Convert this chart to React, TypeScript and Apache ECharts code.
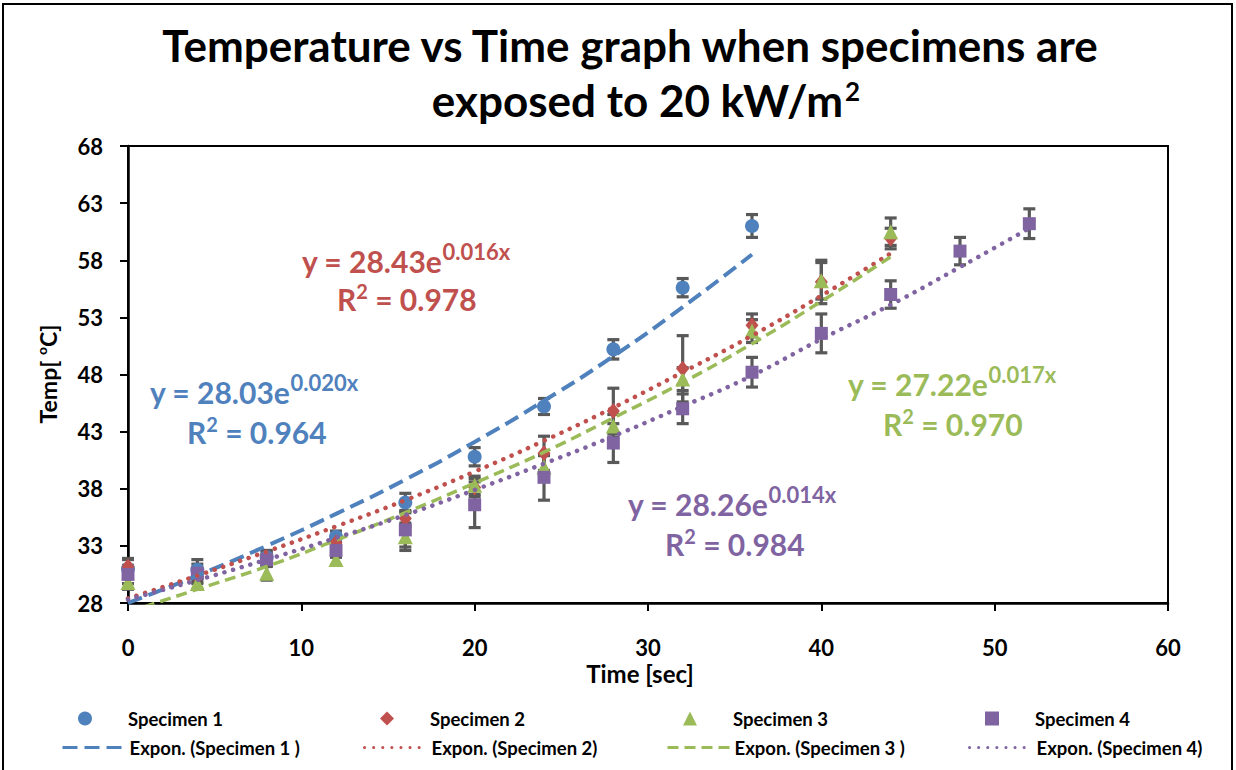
import React, { useEffect, useRef } from "react";
import * as echarts from "echarts";

// ---- Data ----
const xTicks = [0, 10, 20, 30, 40, 50, 60];
const yTicks = [28, 33, 38, 43, 48, 53, 58, 63, 68];

const timeS1 = [0, 4, 8, 12, 16, 20, 24, 28, 32, 36];
const tempS1 = [31.0, 30.9, 32.0, 33.8, 36.8, 40.8, 45.2, 50.2, 55.6, 61.0];
const errS1 = [0.8, 0.9, 0.6, 0.5, 0.8, 0.8, 0.7, 0.85, 0.8, 1.0];
const trendS1 = [28.0, 30.4, 33.0, 35.8, 38.8, 42.1, 45.7, 49.6, 53.9, 58.5];

const timeS2 = [0, 4, 8, 12, 16, 20, 24, 28, 32, 36, 40, 44];
const tempS2 = [31.2, 30.3, 31.9, 33.3, 35.4, 38.1, 41.1, 44.8, 48.5, 52.3, 56.1, 59.9];
const errS2 = [0.7, 0.6, 0.6, 0.5, 0.7, 0.8, 1.5, 2.0, 2.9, 1.0, 1.9, 0.9];
const trendS2 = [28.4, 30.4, 32.5, 34.7, 37.0, 39.5, 42.2, 45.1, 48.2, 51.4, 54.9, 58.6];

const timeS3 = [0, 4, 8, 12, 16, 20, 24, 28, 32, 36, 40, 44];
const tempS3 = [29.8, 29.7, 30.6, 31.8, 33.8, 38.3, 39.9, 43.5, 47.6, 51.8, 56.2, 60.5];
const errS3 = [0.6, 0.5, 0.6, 0.5, 1.2, 0.8, 1.0, 1.0, 1.0, 1.0, 1.6, 1.2];
const trendS3 = [27.2, 29.2, 31.2, 33.5, 35.9, 38.5, 41.2, 44.2, 47.3, 50.7, 54.4, 58.3];

const timeS4 = [0, 4, 8, 12, 16, 20, 24, 28, 32, 36, 40, 44, 48, 52];
const tempS4 = [30.5, 30.6, 31.8, 32.6, 34.4, 36.6, 39.0, 42.0, 45.0, 48.2, 51.6, 55.0, 58.8, 61.2];
const errS4 = [0.8, 0.8, 0.6, 0.6, 1.5, 2.0, 2.0, 1.7, 1.3, 1.3, 1.7, 1.2, 1.2, 1.3];
const trendS4 = [28.3, 30.0, 31.8, 33.7, 35.7, 37.9, 40.2, 42.6, 45.2, 47.9, 51.1, 54.1, 57.4, 60.8];

const seriesNames = ["Specimen 1", "Specimen 2", "Specimen 3", "Specimen 4"];
const trendNames = [
  "Expon. (Specimen 1 )",
  "Expon. (Specimen 2)",
  "Expon. (Specimen 3 )",
  "Expon. (Specimen 4)",
];
const equations = ["28.03e", "28.43e", "27.22e", "28.26e"];
const exponents = ["0.020x", "0.016x", "0.017x", "0.014x"];
const rSquared = ["0.964", "0.978", "0.970", "0.984"];
const titleLine1 = "Temperature vs Time graph when specimens are";
const titleLine2 = "exposed to 20 kW/m";

const COLORS = ["#4F81BD", "#C0504D", "#9BBB59", "#8064A2"];
const ERR_COLOR = "#595959";
const FONT = "Lato";

const pairs = (xs: number[], ys: number[]) => xs.map((x, i) => [x, ys[i]]);
const triples = (xs: number[], ys: number[], es: number[]) => xs.map((x, i) => [x, ys[i], es[i]]);

export default function App() {
  const ref = useRef<HTMLDivElement>(null);

  useEffect(() => {
    document.body.style.margin = "0";
    if (!ref.current) return;
    const chart = echarts.init(ref.current, null, { renderer: "svg" });

    const times = [timeS1, timeS2, timeS3, timeS4];
    const temps = [tempS1, tempS2, tempS3, tempS4];
    const errs = [errS1, errS2, errS3, errS4];
    const trends = [trendS1, trendS2, trendS3, trendS4];
    const symbols = ["circle", "diamond", "triangle", "rect"];
    const symbolSizes: any[] = [14, [13, 16], 15, 13];
    const trendTypes: any[] = [[15, 7], [0.1, 9], [11, 6], [0.1, 9]];
    const trendWidths = [4, 4.5, 3.5, 4.5];

    const errSeries = times.map((t, k) => ({
      type: "custom",
      name: "err" + k,
      data: triples(t, temps[k], errs[k]),
      encode: { x: 0, y: 1 },
      z: 1,
      silent: true,
      renderItem: (_p: any, api: any) => {
        const x = api.value(0);
        const y = api.value(1);
        const e = api.value(2);
        const top = api.coord([x, y + e]);
        const bot = api.coord([x, y - e]);
        const hw = 6;
        const st = { stroke: ERR_COLOR, lineWidth: 3.2 };
        return {
          type: "group",
          children: [
            { type: "line", shape: { x1: top[0], y1: top[1], x2: bot[0], y2: bot[1] }, style: st },
            { type: "line", shape: { x1: top[0] - hw, y1: top[1], x2: top[0] + hw, y2: top[1] }, style: st },
            { type: "line", shape: { x1: bot[0] - hw, y1: bot[1], x2: bot[0] + hw, y2: bot[1] }, style: st },
          ],
        };
      },
    }));

    const scatterSeries = times.map((t, k) => ({
      type: "scatter",
      name: seriesNames[k],
      data: pairs(t, temps[k]),
      symbol: symbols[k],
      symbolSize: symbolSizes[k],
      itemStyle: { color: COLORS[k], opacity: 1 },
      z: 2,
    }));

    const trendSeries = times.map((t, k) => ({
      type: "line",
      name: trendNames[k],
      data: pairs(t, trends[k]),
      smooth: true,
      symbol: "none",
      showSymbol: false,
      clip: true,
      lineStyle: {
        color: COLORS[k],
        width: trendWidths[k],
        type: trendTypes[k],
        cap: k % 2 === 1 ? "round" : "butt",
      },
      itemStyle: { color: COLORS[k] },
      z: 3,
    }));

    const legendText = { fontFamily: FONT, fontWeight: "bold", fontSize: 18.5, color: "#000" };
    const colX = [0, 302, 605, 907];
    const markerLegends = seriesNames.map((n, k) => ({
      data: [n],
      left: 78 + colX[k],
      top: 709,
      itemWidth: 14,
      itemHeight: 14,
      padding: 0,
      textStyle: { ...legendText, padding: [0, 0, 0, 31] },
    }));
    const lineLegends = trendNames.map((n, k) => ({
      data: [n],
      left: 61 + colX[k],
      top: 738,
      itemWidth: 62,
      itemHeight: 14,
      padding: 0,
      itemGap: 0,
      itemStyle: { opacity: 0 },
      lineStyle: { width: 3 },
      textStyle: { ...legendText },
    }));

    const eqPos = [
      { x: 150, y: 393, rx: 187, ry: 436 },
      { x: 302, y: 262, rx: 337, ry: 303 },
      { x: 848, y: 385, rx: 883, ry: 428 },
      { x: 628, y: 505, rx: 665, ry: 548 },
    ];
    const eqTexts: any[] = [];
    eqPos.forEach((p, k) => {
      const rich = {
        b: { fontFamily: FONT, fontWeight: "bold", fontSize: 30, color: COLORS[k] },
        s: {
          fontFamily: FONT,
          fontWeight: "bold",
          fontSize: 22,
          color: COLORS[k],
          padding: [0, 0, 20, 0],
        },
        r: {
          fontFamily: FONT,
          fontWeight: "bold",
          fontSize: 20,
          color: COLORS[k],
          padding: [0, 0, 16, 0],
        },
      };
      eqTexts.push({
        type: "text",
        left: p.x,
        top: p.y - 22,
        z: 10,
        style: {
          text: `{b|y = ${equations[k]}}{s|${exponents[k]}}`,
          rich,
          fill: COLORS[k],
        },
      });
      eqTexts.push({
        type: "text",
        left: p.rx,
        top: p.ry - 22,
        z: 10,
        style: {
          text: `{b|R}{r|2}{b| = ${rSquared[k]}}`,
          rich,
          fill: COLORS[k],
        },
      });
    });

    const option: any = {
      animation: false,
      backgroundColor: "#fff",
      textStyle: { fontFamily: FONT },
      legend: [...markerLegends, ...lineLegends],
      grid: {
        left: 128,
        top: 146,
        right: 68,
        bottom: 167,
        show: true,
        borderColor: "#000",
        borderWidth: 2,
        containLabel: false,
      },
      xAxis: {
        type: "value",
        min: xTicks[0],
        max: xTicks[xTicks.length - 1],
        interval: 10,
        axisLine: { show: true, lineStyle: { color: "#000", width: 2.5 } },
        axisTick: { show: true, inside: false, length: 8, lineStyle: { color: "#000", width: 2 } },
        splitLine: { show: false },
        axisLabel: { margin: 33, fontFamily: FONT, fontWeight: "bold", fontSize: 22, color: "#000" },
      },
      yAxis: {
        type: "value",
        min: yTicks[0],
        max: yTicks[yTicks.length - 1],
        interval: 5,
        axisLine: { show: true, lineStyle: { color: "#000", width: 2.5 } },
        axisTick: { show: true, inside: false, length: 8, lineStyle: { color: "#000", width: 2 } },
        splitLine: { show: false },
        axisLabel: { margin: 25, fontFamily: FONT, fontWeight: "bold", fontSize: 22, color: "#000" },
      },
      graphic: [
        {
          type: "rect",
          shape: { x: 3, y: 4, width: 1229, height: 780 },
          style: { fill: "none", stroke: "#000", lineWidth: 2 },
          silent: true,
          z: -1,
        },
        {
          type: "text",
          x: 630,
          y: 45,
          z: 10,
          style: {
            text: titleLine1,
            align: "center",
            verticalAlign: "middle",
            fontFamily: FONT,
            fontWeight: "bold",
            fontSize: 44,
            fill: "#000",
          },
        },
        {
          type: "text",
          x: 646,
          y: 100,
          z: 10,
          style: {
            text: `{t|${titleLine2}}{s|2}`,
            align: "center",
            verticalAlign: "middle",
            rich: {
              t: { fontFamily: FONT, fontWeight: "bold", fontSize: 44, color: "#000" },
              s: { fontFamily: FONT, fontWeight: "bold", fontSize: 26, color: "#000", padding: [0, 0, 18, 2] },
            },
          },
        },
        {
          type: "text",
          x: 48,
          y: 374,
          rotation: Math.PI / 2,
          z: 10,
          style: {
            text: "{b|Temp[ }{s|o}{b|C]}",
            align: "center",
            verticalAlign: "middle",
            rich: {
              b: { fontFamily: FONT, fontWeight: "bold", fontSize: 23, color: "#000" },
              s: { fontFamily: FONT, fontWeight: "bold", fontSize: 14, color: "#000", padding: [0, 0, 14, 0] },
            },
          },
        },
        {
          type: "text",
          x: 640,
          y: 673,
          z: 10,
          style: {
            text: "Time [sec]",
            align: "center",
            verticalAlign: "middle",
            fontFamily: FONT,
            fontWeight: "bold",
            fontSize: 24,
            fill: "#000",
          },
        },
        ...eqTexts,
      ],
      series: [...errSeries, ...scatterSeries, ...trendSeries],
    };

    chart.setOption(option);
    return () => chart.dispose();
  }, []);

  return <div ref={ref} style={{ width: 1236, height: 770 }} />;
}
